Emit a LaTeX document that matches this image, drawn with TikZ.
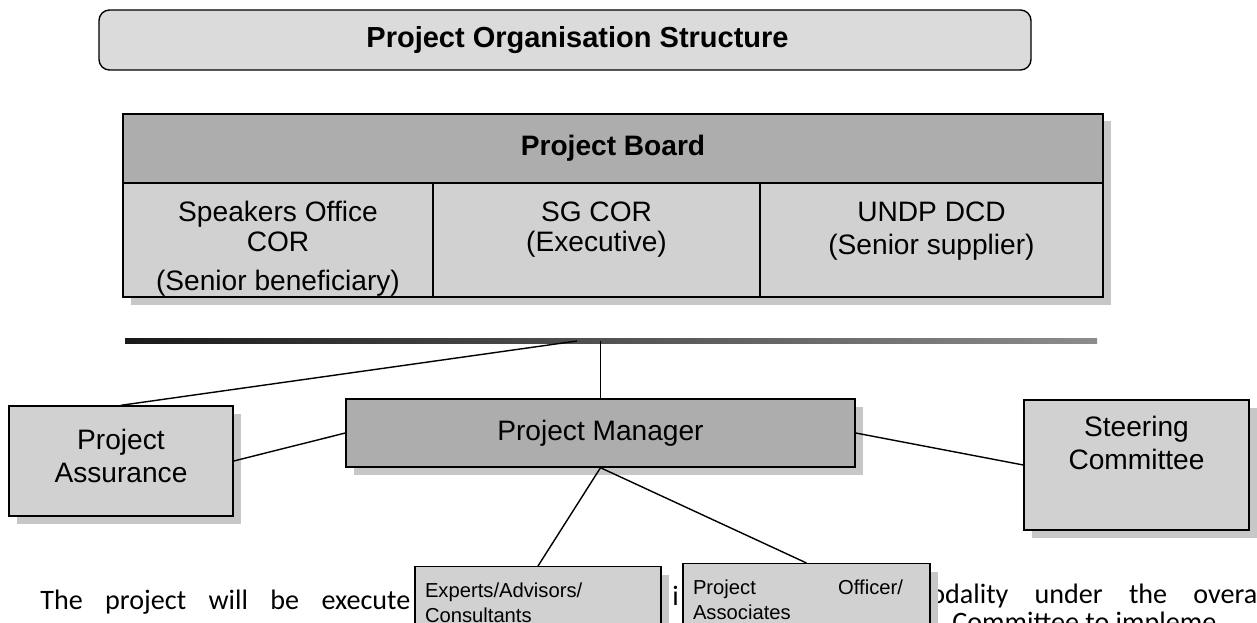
\documentclass[tikz,border=0pt]{standalone}
\usepackage{fontspec}
\setmainfont{Liberation Sans}
\newfontfamily\bodyfont{Carlito}
\usetikzlibrary{shadows}

\begin{document}
\begin{tikzpicture}[x=0.2mm,y=-0.2mm,
    box/.style={draw,thick,fill=black!18,inner sep=0pt,align=center,
      font=\fontsize{16}{19}\selectfont,
      drop shadow={shadow xshift=1.6mm,shadow yshift=-1.6mm,fill=black!22,opacity=1}},
    darkbox/.style={box,fill=black!32},
    smallbox/.style={box,inner xsep=2mm,align=left,font=\fontsize{11.5}{14}\selectfont},
    boxtext/.style={align=center,inner sep=0pt,font=\fontsize{16}{19}\selectfont},
    cell/.style={draw,thick,fill=black!18,inner sep=0pt},
    celltext/.style={anchor=north,align=center,font=\fontsize{16}{17}\selectfont},
    bodytext/.style={anchor=base west,inner sep=0pt,font=\bodyfont\fontsize{16}{19}\selectfont},
    link/.style={thick}]
  \useasboundingbox (0,0) rectangle (1257,623);
  \clip (0,0) rectangle (1257,623);

  % page text running behind the lower boxes
  \node[bodytext] (line1) at (40,609) {\makebox[74mm][s]{The project will be execute}};
  \node[bodytext] (frag) at (672,605) {i};
  \node[bodytext] (line1b) at (930,603) {\makebox[65.4mm][s]{odality under the overa}};
  \node[bodytext] (line2) at (952,631) {Committee to impleme};

  % heading
  \node[draw,thick,rounded corners=6pt,fill=black!14,minimum width=186.4mm,minimum height=12mm,
    font=\bfseries\fontsize{16.5}{19}\selectfont] (title) at (565,40) {\hspace*{5mm}Project Organisation Structure};

  % board table
  \fill[black!22] (131,121) rectangle (1111,305);
  \node[cell,fill=black!32,minimum width=196mm,minimum height=13.8mm,
    font=\bfseries\fontsize{16}{19}\selectfont] (board) at (613,148.5) {Project Board};
  \node[cell,minimum width=62mm,minimum height=22.8mm] (spo) at (278,240) {};
  \node[cell,minimum width=65.4mm,minimum height=22.8mm] (sg) at (596.5,240) {};
  \node[cell,minimum width=68.6mm,minimum height=22.8mm] (undp) at (931.5,240) {};
  \node[celltext] (spotext) at ([yshift=-2.6mm]spo.north) {Speakers Office\\COR\\[5pt](Senior beneficiary)};
  \node[celltext] (sgtext) at ([yshift=-2.6mm]sg.north) {SG COR\\(Executive)};
  \node[celltext] (undptext) at ([yshift=-2.6mm]undp.north) {UNDP DCD\\[2pt](Senior supplier)};
  \shade[left color=black!90,right color=black!45] (125,338) rectangle (1097,343);
  \coordinate (tap) at (577,341);

  % people
  \node[box,minimum width=44.8mm,minimum height=22mm] (pa) at (121,461) {};
  \node[boxtext] (patext) at ([yshift=1mm]pa.center) {Project\\Assurance};
  \node[darkbox,minimum width=101.8mm,minimum height=13.6mm] (pm) at (600.5,433) {Project Manager};
  \node[box,minimum width=45mm,minimum height=26mm] (sc) at (1136.5,465) {};
  \node[boxtext] (sctext) at ([yshift=4.4mm]sc.center) {Steering\\Committee};
  \node[smallbox,anchor=north,minimum width=49.2mm,minimum height=14.4mm,text width=45.2mm] (ex) at (538,566)
    {Experts/Advisors/\\Consultants};
  \node[smallbox,anchor=north,minimum width=49.4mm,minimum height=14.4mm,text width=45.4mm] (po) at (806.5,563)
    {\makebox[42mm][l]{Project\hfill Officer/}\\Associates};

  \draw[link] (tap) -- (pa.north);
  \draw[link] (pm.north |- tap) -- (pm.north);
  \draw[link] (pa.east) -- (pm.west);
  \draw[link] (pm.east) -- (sc.west);
  \draw[link] (pm.south) -- (ex.north);
  \draw[link] (pm.south) -- (po.north);
\end{tikzpicture}
\end{document}
